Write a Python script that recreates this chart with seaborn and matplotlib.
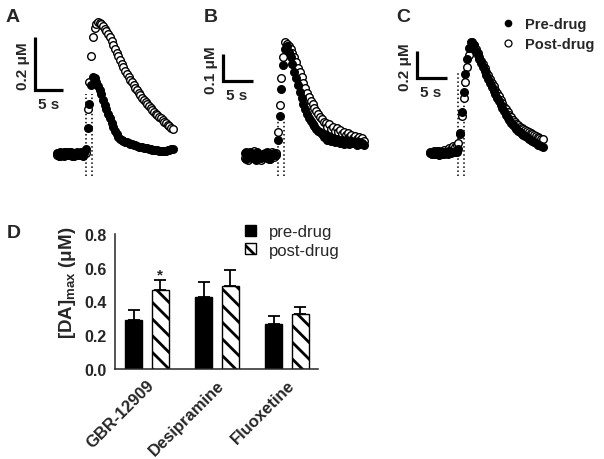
import matplotlib
matplotlib.use('Agg')
import matplotlib.pyplot as plt
from matplotlib.lines import Line2D
from matplotlib.patches import Patch
import numpy as np
import pandas as pd
import seaborn as sns

# sampling interval of the traces (s), stimulation starts at t = 0
dt = 0.3
stim_times = [0.0, 1.0]

# panel A: [DA] (uM), first sample at -5.1 s
a_start = -5.1
a_pre = [0.004, -0.006, 0.008, 0.000, -0.008, 0.006, -0.003, 0.009, -0.005, 0.002,
         -0.009, 0.005, 0.000, -0.004, 0.007, -0.006, 0.003,
         0.02, 0.10, 0.19, 0.26, 0.29, 0.285, 0.272, 0.258, 0.243, 0.225,
         0.205, 0.186, 0.168, 0.151, 0.134, 0.117, 0.101, 0.087, 0.075, 0.065,
         0.058, 0.053, 0.049, 0.046, 0.044, 0.041, 0.039, 0.036, 0.034, 0.033,
         0.031, 0.028, 0.027, 0.025, 0.024, 0.021, 0.021, 0.019, 0.019, 0.016,
         0.016, 0.014, 0.014, 0.012, 0.013, 0.011, 0.012, 0.013, 0.015, 0.016,
         0.018, 0.019]
a_post = [-0.003, 0.005, -0.007, 0.002, 0.006, -0.005, 0.004, -0.002, 0.007, -0.006,
          0.003, -0.004, 0.006, 0.001, -0.005, 0.004, 0.000,
          0.005, 0.17, 0.27, 0.37, 0.44, 0.475, 0.492, 0.498, 0.495, 0.49,
          0.482, 0.473, 0.464, 0.454, 0.441, 0.427, 0.412, 0.397, 0.382, 0.368,
          0.354, 0.341, 0.328, 0.315, 0.302, 0.291, 0.28, 0.27, 0.26, 0.25,
          0.24, 0.231, 0.222, 0.212, 0.203, 0.196, 0.188, 0.18, 0.173, 0.165,
          0.158, 0.152, 0.146, 0.14, 0.134, 0.128, 0.122, 0.116, 0.11, 0.104,
          0.098, 0.094]

# panel B, first sample at -5.4 s
b_start = -5.4
b_pre = [0.01, -0.012, 0.005, 0.015, -0.008, 0.0, -0.015, 0.012, 0.004, -0.01,
         0.008, -0.004, 0.014, -0.012, 0.006, -0.002, 0.01, 0.004,
         0.06, 0.15, 0.25, 0.34, 0.40, 0.41, 0.39, 0.37, 0.345, 0.315,
         0.29, 0.265, 0.24, 0.215, 0.193, 0.174, 0.158, 0.143, 0.13, 0.12,
         0.11, 0.10, 0.093, 0.087, 0.081, 0.07, 0.078, 0.06, 0.069, 0.055,
         0.066, 0.052, 0.063, 0.058, 0.049, 0.06, 0.045, 0.057, 0.05, 0.044,
         0.055, 0.046, 0.05, 0.041, 0.052, 0.044, 0.047, 0.04]
b_post = [-0.008, 0.012, -0.015, 0.004, -0.01, 0.016, -0.004, -0.012, 0.008, -0.016,
          0.002, 0.01, -0.008, 0.005, -0.014, 0.012, -0.006, 0.01,
          0.09, 0.19, 0.29, 0.37, 0.425, 0.42, 0.41, 0.398, 0.385, 0.368,
          0.35, 0.33, 0.313, 0.295, 0.274, 0.254, 0.236, 0.22, 0.206, 0.192,
          0.178, 0.166, 0.156, 0.146, 0.137, 0.128, 0.121, 0.108, 0.118, 0.1,
          0.108, 0.094, 0.102, 0.088, 0.097, 0.082, 0.09, 0.076, 0.085, 0.07,
          0.079, 0.066, 0.074, 0.062, 0.07, 0.058, 0.066, 0.056]

# panel C, first sample at -4.8 s
c_start = -4.8
c_pre = [0.0, -0.01, 0.008, -0.006, 0.012, -0.012, 0.004, 0.01, -0.008, 0.006,
         -0.004, 0.012, 0.0, 0.008, 0.004, 0.01,
         0.03, 0.14, 0.30, 0.45, 0.58, 0.69, 0.77, 0.81, 0.81,
         0.79, 0.75, 0.72, 0.69, 0.66, 0.63, 0.60, 0.57, 0.54, 0.51,
         0.48, 0.455, 0.43, 0.405, 0.38, 0.355, 0.33, 0.305, 0.28, 0.26,
         0.24, 0.22, 0.205, 0.19, 0.175, 0.163, 0.152, 0.142, 0.133, 0.124,
         0.115, 0.106, 0.097, 0.088, 0.079, 0.07, 0.062, 0.055, 0.048, 0.042]
c_post = [0.005, -0.008, 0.012, 0.0, -0.01, 0.015, 0.005, -0.005, 0.02, 0.01,
          0.025, 0.035, 0.03, 0.05, 0.045, 0.055,
          0.07, 0.15, 0.27, 0.40, 0.52, 0.63, 0.72, 0.78, 0.80, 0.79,
          0.765, 0.735, 0.705, 0.675, 0.65, 0.62, 0.595, 0.57, 0.545, 0.515,
          0.49, 0.465, 0.44, 0.415, 0.39, 0.365, 0.34, 0.32, 0.30, 0.28,
          0.262, 0.245, 0.23, 0.216, 0.204, 0.193, 0.183, 0.174, 0.166, 0.158,
          0.151, 0.144, 0.137, 0.13, 0.124, 0.118, 0.112, 0.106, 0.10]

# panel D: mean [DA]max and SEM (uM)
drugs = ['GBR-12909', 'Desipramine', 'Fluoxetine']
conditions = ['pre-drug', 'post-drug']
pre_mean = [0.292, 0.428, 0.267]
pre_sem = [0.058, 0.085, 0.049]
post_mean = [0.468, 0.494, 0.326]
post_sem = [0.061, 0.094, 0.043]

sns.set_style('white')
plt.rcParams['font.family'] = ['Liberation Sans', 'DejaVu Sans']
plt.rcParams['mathtext.fontset'] = 'custom'
plt.rcParams['mathtext.rm'] = 'Liberation Sans'
plt.rcParams['mathtext.default'] = 'regular'
plt.rcParams['hatch.linewidth'] = 2.0

W, H = 604, 460
fig = plt.figure(figsize=(W / 100, H / 100), dpi=100)


def px_axes(left, top, right, bottom):
    return fig.add_axes([left / W, 1 - bottom / H, (right - left) / W, (bottom - top) / H])


def trace_panel(box, origin, scale, start, pre, post, bar_um, bar_px, dot_top):
    left, top, right, bottom = box
    x0, y0 = origin
    kx, ky = scale
    ax = px_axes(left, top, right, bottom)

    for t in stim_times:
        ax.plot([t, t], [(y0 - 177) / ky, (y0 - dot_top) / ky], color='black',
                ls=':', lw=1.1, zorder=1)

    t_post = start + dt * np.arange(len(post))
    t_pre = start + dt * np.arange(len(pre))
    sns.scatterplot(x=t_post, y=post, ax=ax, s=30, color='white',
                    edgecolor='black', linewidth=1.0, zorder=2)
    sns.scatterplot(x=t_pre, y=pre, ax=ax, s=30, color='black',
                    edgecolor='black', linewidth=1.0, zorder=3)

    # scale bar: bar_um vertical, 5 s horizontal
    bx, by = (bar_px[0] - x0) / kx, (y0 - bar_px[1]) / ky
    ax.plot([bx, bx, bx + 5], [by + bar_um, by, by], color='black', lw=2.3,
            solid_joinstyle='miter', solid_capstyle='butt')
    ax.annotate(f'{bar_um} μM', (bx, by + bar_um / 2), xytext=(-12, -2),
                textcoords='offset pixels', rotation=90, ha='center', va='center',
                fontsize=11, fontweight='bold')
    ax.annotate('5 s', (bx + 2.5, by), xytext=(-1, -14), textcoords='offset pixels',
                ha='center', va='center', fontsize=11, fontweight='bold')

    ax.set_xlim((left - x0) / kx, (right - x0) / kx)
    ax.set_ylim((y0 - bottom) / ky, (y0 - top) / ky)
    ax.axis('off')
    return ax


trace_panel((0, 0, 200, 190), (86, 155), (5.67, 265), a_start, a_pre, a_post,
            0.2, (35, 91), 95)
trace_panel((200, 0, 400, 190), (277.7, 156.7), (6.13, 267), b_start, b_pre, b_post,
            0.1, (222.7, 81.7), 120)
trace_panel((400, 0, 604, 190), (458.3, 154), (5.87, 136.5), c_start, c_pre, c_post,
            0.2, (417.3, 79), 72)

for letter, x, y in [('A', 6, 22), ('B', 204, 22), ('C', 396, 22), ('D', 7, 238)]:
    fig.text(x / W, 1 - y / H, letter, fontsize=14, fontweight='bold', va='baseline')

trace_handles = [
    Line2D([], [], marker='o', ls='', markerfacecolor='black', markeredgecolor='black', markersize=4.5),
    Line2D([], [], marker='o', ls='', markerfacecolor='white', markeredgecolor='black',
           markersize=5, markeredgewidth=0.9),
]
fig.legend(trace_handles, ['Pre-drug', 'Post-drug'], loc='upper left',
           bbox_to_anchor=(500.7 / W, 1 - 18 / H), frameon=False, borderpad=0,
           borderaxespad=0, handlelength=1, handletextpad=0.66, labelspacing=0.44,
           prop={'weight': 'bold', 'size': 10.5})

# panel D
df = pd.DataFrame({
    'drug': drugs * 2,
    'condition': [conditions[0]] * 3 + [conditions[1]] * 3,
    'dam': pre_mean + post_mean,
})
ax = px_axes(115, 235, 318, 370)
sns.barplot(data=df, x='drug', y='dam', hue='condition', hue_order=conditions,
            palette=['black', 'white'], edgecolor='black', linewidth=1,
            width=0.757, gap=0.36, errorbar=None, legend=False, ax=ax)

for container, sems, hatch in zip(ax.containers, [pre_sem, post_sem], [None, '\\\\']):
    for bar, s in zip(container, sems):
        if hatch:
            bar.set_hatch(hatch)
        xc = bar.get_x() + bar.get_width() / 2
        ax.errorbar(xc, bar.get_height(), yerr=[[0], [s]], color='black',
                    capsize=4, elinewidth=1.3, capthick=1.3, zorder=0)

star_bar = ax.containers[1][0]
ax.text(star_bar.get_x() + star_bar.get_width() / 2, post_mean[0] + post_sem[0] + 0.01,
        '*', ha='center', va='baseline', fontsize=11, fontweight='bold')

ax.set_xlim(-0.454, 2.446)
ax.set_ylim(0, 0.8)
ax.set_yticks([0, 0.2, 0.4, 0.6, 0.8])
ax.set_yticklabels(['0.0', '0.2', '0.4', '0.6', '0.8'], fontweight='bold', fontsize=11.5)
ax.set_xticks(range(len(drugs)))
ax.set_xticklabels(drugs, rotation=45, ha='right', rotation_mode='anchor',
                   fontweight='bold', fontsize=12)
ax.tick_params(axis='x', length=0, pad=6)
ax.tick_params(axis='y', length=4, width=1.1, pad=2)
sns.despine(ax=ax)
for side in ['left', 'bottom']:
    ax.spines[side].set_linewidth(1.1)
ax.set_xlabel('')
ax.set_ylabel(r'[DA]$_{max}$ (μM)', fontsize=13.5, fontweight='bold')
ax.yaxis.set_label_coords(-0.18, 0.645)

bar_handles = [Patch(facecolor='black', edgecolor='black'),
               Patch(facecolor='white', edgecolor='black', hatch='\\\\')]
fig.legend(bar_handles, conditions, loc='upper left',
           bbox_to_anchor=(245 / W, 1 - 225 / H), frameon=False, borderpad=0,
           borderaxespad=0, handlelength=0.65, handleheight=0.65, handletextpad=0.8,
           labelspacing=0.22, fontsize=12)

fig.savefig('out.png', dpi=100)
